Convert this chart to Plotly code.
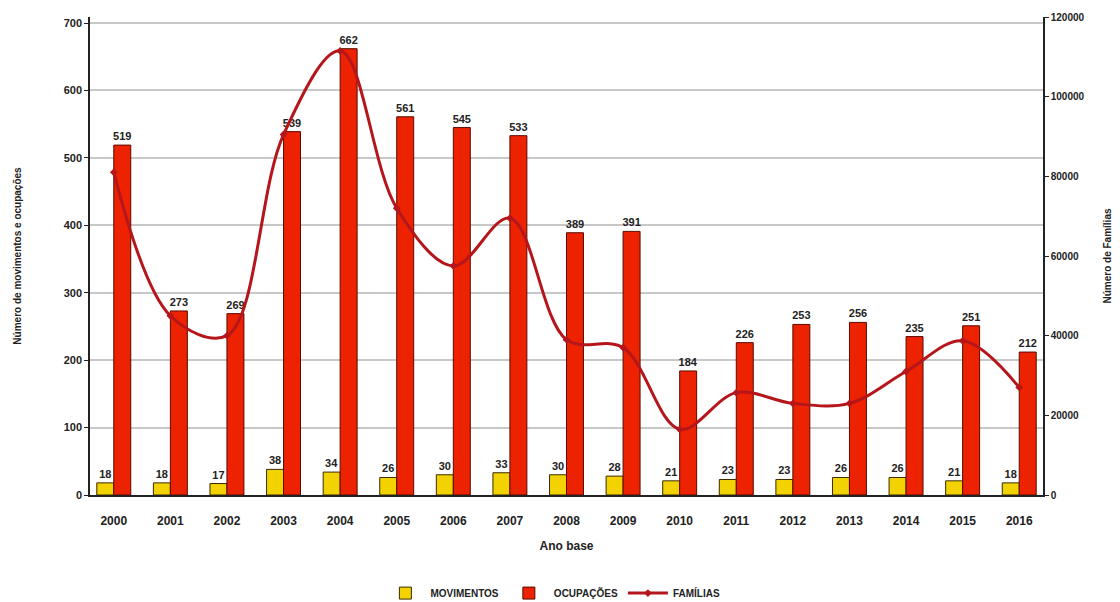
import plotly.graph_objects as go

anos = [str(a) for a in range(2000, 2017)]
movimentos = [18, 18, 17, 38, 34, 26, 30, 33, 30, 28, 21, 23, 23, 26, 26, 21, 18]
ocupacoes = [519, 273, 269, 539, 662, 561, 545, 533, 389, 391, 184, 226, 253, 256, 235, 251, 212]
familias = [81000, 45000, 40000, 90500, 111500, 72000, 57500, 69500, 39000, 37000,
            16500, 25700, 23000, 23000, 31000, 38700, 27000]

FONT = "Liberation Sans"
TXT = dict(family=FONT, size=11, color="#222", weight="bold")

fig = go.Figure()
fig.add_trace(go.Bar(
    x=anos, y=movimentos, name="MOVIMENTOS",
    marker=dict(color="#f2d200", line=dict(color="#3a2a00", width=1)),
    text=movimentos, textposition="outside", cliponaxis=False, constraintext="none",
    textfont=TXT, outsidetextfont=TXT,
))
fig.add_trace(go.Bar(
    x=anos, y=ocupacoes, name="OCUPAÇÕES",
    marker=dict(color="#ec2200", line=dict(color="#5a0a00", width=1)),
    text=ocupacoes, textposition="outside", cliponaxis=False, constraintext="none",
    textfont=TXT, outsidetextfont=TXT,
))
fig.add_trace(go.Scatter(
    x=anos, y=familias, name="FAMÍLIAS", yaxis="y2",
    mode="lines+markers",
    line=dict(color="#b5161b", width=3, shape="spline", smoothing=1.0),
    marker=dict(color="#b5161b", size=6, symbol="diamond"),
))

fig.update_layout(
    width=1112, height=594,
    margin=dict(l=82, r=77, t=9, b=107, autoexpand=False),
    paper_bgcolor="white", plot_bgcolor="white",
    font=dict(family=FONT, size=11, color="#222"),
    barmode="group", bargap=0.4, bargroupgap=0.0,
    showlegend=True,
    legend=dict(orientation="h", x=0.49, xref="container", xanchor="center",
                y=0.015, yref="container", yanchor="middle",
                font=dict(family=FONT, size=10, color="#222", weight="bold"),
                itemwidth=40, traceorder="normal", tracegroupgap=0),
    xaxis=dict(
        type="category", range=[-0.42, 16.42],
        showline=True, linecolor="#222", linewidth=1.5,
        ticks="", ticklabelstandoff=14, automargin=False,
        tickfont=dict(family=FONT, size=12, color="#222", weight="bold"),
        title=dict(text="<b>Ano base</b>", font=dict(family=FONT, size=12, color="#222"), standoff=14),
    ),
    yaxis=dict(
        range=[0, 709], tickvals=[0, 100, 200, 300, 400, 500, 600, 700],
        showgrid=True, gridcolor="#c8c8c8", gridwidth=1.5, automargin=False,
        showline=True, linecolor="#222", linewidth=1.5,
        ticks="outside", ticklen=4, tickcolor="#222",
        tickfont=dict(family=FONT, size=11, color="#222", weight="bold"),
        title=dict(text="<b>Número de movimentos e ocupações</b>",
                   font=dict(family=FONT, size=10, color="#222"), standoff=40),
        zeroline=False,
    ),
    yaxis2=dict(
        overlaying="y", side="right", range=[0, 120000], automargin=False,
        tickvals=[0, 20000, 40000, 60000, 80000, 100000, 120000], tickformat="d",
        showgrid=False, showline=True, linecolor="#222", linewidth=1.5,
        ticks="outside", ticklen=4, tickcolor="#222",
        tickfont=dict(family=FONT, size=10, color="#222", weight="bold"),
        title=dict(text="<b>Número de Famílias</b>",
                   font=dict(family=FONT, size=10, color="#222"), standoff=20),
        zeroline=False,
    ),
)

fig.write_html("out.html")
